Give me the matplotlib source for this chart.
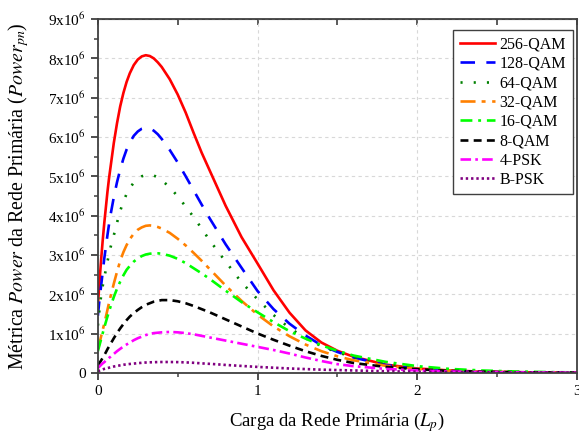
import numpy as np
import matplotlib
matplotlib.use('Agg')
import matplotlib.pyplot as plt
from matplotlib.ticker import MultipleLocator, FuncFormatter

plt.rcParams['font.family'] = ['Liberation Serif', 'DejaVu Serif']
plt.rcParams['mathtext.fontset'] = 'stix'

# primary network load (x) and Power metric per modulation, in units of 1e6
carga = [0, 0.01, 0.02, 0.03, 0.04, 0.05, 0.06, 0.07, 0.08,
         0.1, 0.12, 0.14, 0.16, 0.18, 0.2,
         0.225, 0.25, 0.275, 0.3, 0.325, 0.35, 0.375, 0.4,
         0.45, 0.5, 0.55, 0.6, 0.65, 0.7, 0.75, 0.8,
         0.9, 1.0, 1.1, 1.2, 1.3, 1.4, 1.5, 1.6,
         1.8, 2.0, 2.2, 2.4, 2.6, 2.8, 3.0]

qam256 = [1.7, 2.3, 2.85, 3.35, 3.8, 4.2, 4.6, 4.95, 5.25,
          5.85, 6.35, 6.78, 7.12, 7.4, 7.62,
          7.83, 7.97, 8.05, 8.08, 8.06, 8.0, 7.9, 7.78,
          7.47, 7.08, 6.62, 6.1, 5.6, 5.15, 4.7, 4.25,
          3.45, 2.78, 2.1, 1.53, 1.08, 0.77, 0.56, 0.41,
          0.21, 0.11, 0.06, 0.03, 0.016, 0.008, 0.004]
qam128 = [1.45, 1.85, 2.2, 2.55, 2.9, 3.2, 3.5, 3.78, 4.03,
          4.47, 4.85, 5.17, 5.45, 5.68, 5.86,
          6.03, 6.14, 6.21, 6.24, 6.22, 6.16, 6.07, 5.95,
          5.67, 5.35, 5.0, 4.64, 4.28, 3.93, 3.6, 3.27,
          2.67, 2.08, 1.62, 1.25, 0.95, 0.7, 0.53, 0.39,
          0.2, 0.1, 0.05, 0.025, 0.012, 0.006, 0.003]
qam64 = [1.2, 1.6, 1.95, 2.2, 2.42, 2.62, 2.83, 3.02, 3.2,
         3.5, 3.82, 4.12, 4.36, 4.55, 4.7,
         4.84, 4.94, 5.0, 5.03, 5.04, 5.02, 4.97, 4.9,
         4.72, 4.49, 4.23, 3.96, 3.67, 3.37, 3.1, 2.83,
         2.3, 1.87, 1.47, 1.14, 0.88, 0.68, 0.52, 0.4,
         0.23, 0.13, 0.07, 0.04, 0.02, 0.01, 0.005]
qam32 = [0.6, 0.75, 0.92, 1.08, 1.25, 1.42, 1.6, 1.78, 1.95,
         2.27, 2.57, 2.85, 3.07, 3.25, 3.4,
         3.54, 3.64, 3.7, 3.74, 3.75, 3.74, 3.71, 3.67,
         3.56, 3.41, 3.24, 3.05, 2.85, 2.64, 2.43, 2.22,
         1.83, 1.48, 1.18, 0.93, 0.72, 0.55, 0.42, 0.32,
         0.18, 0.1, 0.055, 0.03, 0.016, 0.008, 0.004]
qam16 = [0.55, 0.7, 0.85, 1.0, 1.15, 1.29, 1.43, 1.56, 1.69,
         1.93, 2.14, 2.32, 2.48, 2.62, 2.72,
         2.83, 2.91, 2.97, 3.01, 3.03, 3.04, 3.04, 3.03,
         2.98, 2.9, 2.79, 2.66, 2.53, 2.39, 2.24, 2.09,
         1.8, 1.54, 1.29, 1.06, 0.87, 0.7, 0.56, 0.44,
         0.28, 0.17, 0.1, 0.06, 0.035, 0.02, 0.01]
qam8 = [0.2, 0.25, 0.31, 0.38, 0.45, 0.52, 0.6, 0.67, 0.74,
        0.88, 1.01, 1.13, 1.24, 1.34, 1.43,
        1.52, 1.6, 1.67, 1.73, 1.77, 1.81, 1.83, 1.85,
        1.85, 1.82, 1.77, 1.7, 1.62, 1.54, 1.45, 1.36,
        1.18, 1.0, 0.84, 0.69, 0.55, 0.43, 0.33, 0.25,
        0.15, 0.09, 0.05, 0.03, 0.016, 0.009, 0.005]
psk4 = [0.12, 0.16, 0.2, 0.24, 0.27, 0.31, 0.34, 0.38, 0.41,
        0.48, 0.55, 0.61, 0.67, 0.72, 0.77,
        0.83, 0.88, 0.92, 0.96, 0.99, 1.01, 1.02, 1.03,
        1.04, 1.03, 1.01, 0.98, 0.94, 0.9, 0.86, 0.82,
        0.74, 0.66, 0.58, 0.49, 0.39, 0.3, 0.22, 0.17,
        0.1, 0.06, 0.035, 0.02, 0.012, 0.007, 0.004]
bpsk = [0.04, 0.055, 0.07, 0.085, 0.1, 0.11, 0.12, 0.13, 0.14,
        0.16, 0.175, 0.19, 0.205, 0.215, 0.225,
        0.235, 0.245, 0.255, 0.262, 0.267, 0.27, 0.273, 0.275,
        0.275, 0.272, 0.265, 0.255, 0.24, 0.228, 0.215, 0.2,
        0.175, 0.15, 0.13, 0.11, 0.095, 0.08, 0.07, 0.06,
        0.04, 0.028, 0.02, 0.013, 0.009, 0.006, 0.004]

labels = ['256-QAM', '128-QAM', '64-QAM', '32-QAM', '16-QAM', '8-QAM', '4-PSK', 'B-PSK']
series = [qam256, qam128, qam64, qam32, qam16, qam8, psk4, bpsk]
colors = ['#ff0000', '#0000ff', '#008000', '#ff8000', '#00ff00', '#000000', '#ff00ff', '#800080']
dashes = [None, (5.5, 4.3), (0.8, 4.2), (5.7, 2.3, 1.5, 2.5), (4.5, 2.2, 1.1, 2.2),
          (3, 2), (4, 1.6, 1, 1.6), (0.9, 1.1)]

fig = plt.figure(figsize=(5.79, 4.33), dpi=100)
ax = fig.add_axes([0.169, 0.139, 0.8275, 0.817])

x = np.array(carga)
for y, lab, c, d in zip(series, labels, colors, dashes):
    line, = ax.plot(x, np.array(y) * 1e6, color=c, lw=1.9, label=lab)
    if d is not None:
        line.set_dashes(d)

ax.set_xlim(0, 3)
ax.set_ylim(0, 9e6)
ax.xaxis.set_major_locator(MultipleLocator(1))
ax.xaxis.set_minor_locator(MultipleLocator(0.5))
ax.yaxis.set_major_locator(MultipleLocator(1e6))
ax.yaxis.set_minor_locator(MultipleLocator(0.5e6))
ax.yaxis.set_major_formatter(FuncFormatter(
    lambda v, p: '0' if v == 0 else r'%dx10$^{6}$' % round(v / 1e6)))

ax.grid(True, which='major', color='#d8d8d8', ls=(0, (3, 3)), lw=0.8)
ax.set_axisbelow(True)

for s in ax.spines.values():
    s.set_color('#404040')
    s.set_linewidth(1.3)
ax.tick_params(which='both', direction='out', color='#404040', labelsize=11)
ax.tick_params(which='major', length=5, width=1.3)
ax.tick_params(which='minor', length=3, width=1.1)

top = ax.secondary_xaxis('top')
top.xaxis.set_major_locator(MultipleLocator(0.5))
top.tick_params(direction='in', length=4, width=1.2, color='#404040', labeltop=False)
top.spines['top'].set_color('#404040')

ax.set_xlabel(r'Carga da Rede Primária ($L_p$)', fontsize=13.5)
ax.xaxis.set_label_coords(0.5, -0.14)
ax.xaxis.label.set_va('center')
ax.set_ylabel(r'Métrica $Power$ da Rede Primária ($Power_{pn}$)', fontsize=14.3)
ax.yaxis.set_label_coords(-0.166, 0.5)
ax.yaxis.label.set_va('center')

leg = ax.legend(loc='upper right', bbox_to_anchor=(0.991, 0.969), borderaxespad=0,
                fontsize=11.5, fancybox=False, framealpha=1, edgecolor='#404040',
                handlelength=2.2, handletextpad=0.3, labelspacing=0.21, borderpad=0.4)
leg.get_frame().set_linewidth(1.0)

fig.savefig('out.png', dpi=100)
